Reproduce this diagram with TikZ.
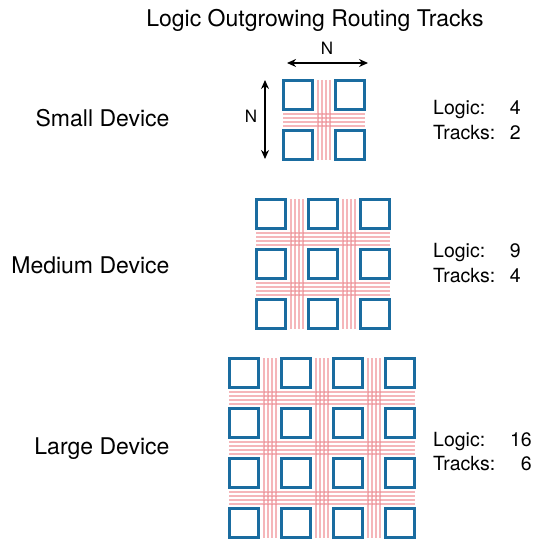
\documentclass[tikz,border=0pt]{standalone}
\usepackage{fontspec}
\setmainfont{TeX Gyre Heros}
\usetikzlibrary{arrows.meta}
\definecolor{cellblue}{RGB}{26,108,160}
\definecolor{trackred}{RGB}{245,182,186}
\definecolor{trackcross}{RGB}{226,120,128}

\tikzset{
  cell/.style={draw=cellblue, line width=3bp, minimum size=29bp, inner sep=0pt},
  track/.style={draw=trackred, line width=1.2bp},
  cross/.style={fill=trackcross},
  dim/.style={line width=1.4bp, {Stealth[length=9bp,width=8bp]}-{Stealth[length=9bp,width=8bp]}},
  title/.style={font=\fontsize{23bp}{27bp}\selectfont, anchor=base},
  devlabel/.style={font=\fontsize{23bp}{27bp}\selectfont, anchor=base east},
  stat/.style={font=\fontsize{19.5bp}{23bp}\selectfont, anchor=base west, inner sep=0pt},
  statnum/.style={font=\fontsize{19.5bp}{23bp}\selectfont, anchor=base east, inner sep=0pt},
  dimlabel/.style={font=\fontsize{17bp}{20bp}\selectfont},
}

% logic blocks on a regular pitch with four routing tracks in every channel
% #1 name prefix, #2 left edge, #3 top edge, #4 columns, #5 rows
\newcommand\fabricgrid[5]{%
  \pgfmathtruncatemacro\lastc{#4-1}%
  \pgfmathtruncatemacro\lastr{#5-1}%
  \pgfmathsetmacro\xend{#2+\lastc*52+32}%
  \pgfmathsetmacro\yend{#3+\lastr*50+32}%
  \foreach \k in {1,...,\lastc}{%
    \foreach \dd in {-6,-2,2,6}{%
      \draw[track] ({#2+52*\k-10+\dd},{#3+1}) -- ({#2+52*\k-10+\dd},{\yend-1});
    }}%
  \foreach \k in {1,...,\lastr}{%
    \foreach \dd in {-6,-2,2,6}{%
      \draw[track] ({#2+1},{#3+50*\k-9+\dd}) -- ({\xend-1},{#3+50*\k-9+\dd});
    }}%
  % darker spots where the tracks cross
  \foreach \k in {1,...,\lastc}{%
    \foreach \l in {1,...,\lastr}{%
      \foreach \dx in {-6,-2,2,6}{%
        \foreach \dy in {-6,-2,2,6}{%
          \fill[cross] ({#2+52*\k-10+\dx},{#3+50*\l-9+\dy}) circle[radius=0.75bp];
        }}}}%
  \foreach \i in {1,...,#4}{%
    \foreach \j in {1,...,#5}{%
      \node[cell] (#1-\i-\j) at ({#2+52*(\i-1)+16},{#3+50*(\j-1)+16}) {};
    }}%
}

\begin{document}
\begin{tikzpicture}[x=1bp, y=-1bp]
  \useasboundingbox (0,0) rectangle (537,544);

  \node[title] (heading) at (315,27) {Logic Outgrowing Routing Tracks};

  % small device with its dimension arrows
  \fabricgrid{sm}{282}{79}{2}{2}
  \coordinate (hl) at (287,63);
  \coordinate (hr) at (368,63);
  \draw[dim] (hl) -- (hr);
  \node[dimlabel] (hn) at (327,48) {N};
  \coordinate (vt) at (265,80);
  \coordinate (vb) at (265,159);
  \draw[dim] (vt) -- (vb);
  \node[dimlabel] (vn) at (251,116) {N};

  \node[devlabel] (smlabel) at (173,127) {Small Device};
  \node[stat] (smlogic) at (433,115) {Logic:};
  \node[statnum] (smlogicn) at (521,115) {4};
  \node[stat] (smtracks) at (433,140) {Tracks:};
  \node[statnum] (smtracksn) at (521,140) {2};

  % medium device
  \fabricgrid{md}{255}{198}{3}{3}
  \node[devlabel] (mdlabel) at (173,273) {Medium Device};
  \node[stat] (mdlogic) at (433,257) {Logic:};
  \node[statnum] (mdlogicn) at (521,257) {9};
  \node[stat] (mdtracks) at (433,282) {Tracks:};
  \node[statnum] (mdtracksn) at (521,282) {4};

  % large device
  \fabricgrid{lg}{228}{357}{4}{4}
  \node[devlabel] (lglabel) at (173,454) {Large Device};
  \node[stat] (lglogic) at (433,446) {Logic:};
  \node[statnum] (lglogicn) at (532,446) {16};
  \node[stat] (lgtracks) at (433,470) {Tracks:};
  \node[statnum] (lgtracksn) at (532,470) {6};
\end{tikzpicture}
\end{document}
